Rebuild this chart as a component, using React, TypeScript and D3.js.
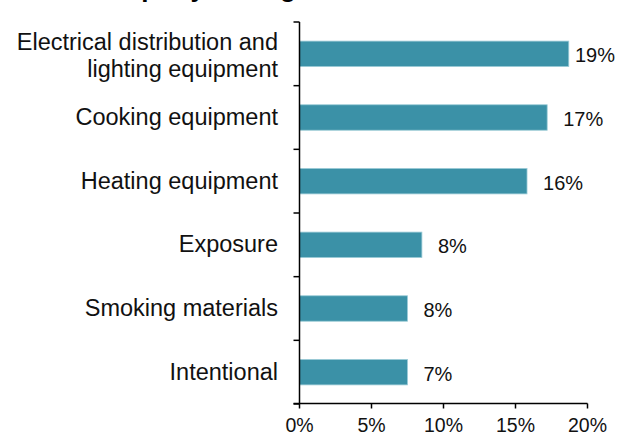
import React from "react";
import * as d3 from "d3";

const categories: string[][] = [
  ["Electrical distribution and", "lighting equipment"],
  ["Cooking equipment"],
  ["Heating equipment"],
  ["Exposure"],
  ["Smoking materials"],
  ["Intentional"],
];
const values: number[] = [18.7, 17.2, 15.8, 8.5, 7.5, 7.5];
const valueLabels: string[] = ["19%", "17%", "16%", "8%", "8%", "7%"];
const xTicks: number[] = [0, 5, 10, 15, 20];
const titleText = "Property damage";

const W = 618;
const H = 436;
const FONT = "'Liberation Sans', Arial, Helvetica, sans-serif";

export default function App() {
  const x = d3.scaleLinear().domain([0, 20]).range([299.5, 587.5]);
  const keys = categories.map((c) => c.join(" "));
  const y = d3.scaleBand<string>().domain(keys).range([22, 404]).paddingInner(0.6).paddingOuter(0.3);
  const step = y.step();
  const y0 = 22;
  const bounds = d3.range(keys.length + 1).map((i) => y0 + i * step);
  const axisX = x(0);
  const axisY = 403.5;
  const lineH = 27;

  return (
    <svg
      width={W}
      height={H}
      style={{ position: "absolute", left: 0, top: 0, display: "block", background: "#fff" }}
      fontFamily={FONT}
    >
      <text x={98} y={-3} fontSize={26} fontWeight="bold" fill="#000">
        {titleText}
      </text>
      {keys.map((k, i) => {
        const cy = (y(k) as number) + y.bandwidth() / 2;
        const xEnd = x(values[i]);
        const lines = categories[i];
        const off = lines.length > 1 ? 1 : -1;
        return (
          <g key={k}>
            <rect
              x={axisX}
              y={y(k)}
              width={xEnd - axisX}
              height={y.bandwidth()}
              fill="#3b91a7"
              stroke="#9ccbd7"
              strokeWidth={0.8}
            />
            <text
              x={Math.min(xEnd + 16, 575)}
              y={cy}
              dy="0.42em"
              fontSize={20}
              fill="#111"
            >
              {valueLabels[i]}
            </text>
            {lines.map((ln, j) => (
              <text
                key={j}
                x={278}
                y={cy + off + (j - (lines.length - 1) / 2) * lineH}
                dy="0.36em"
                textAnchor="end"
                fontSize={23.5}
                fill="#111"
              >
                {ln}
              </text>
            ))}
          </g>
        );
      })}
      {/* y axis */}
      <line x1={axisX} x2={axisX} y1={y0} y2={axisY} stroke="#000" strokeWidth={1.5} />
      {bounds.map((b, i) => (
        <line key={i} x1={axisX - 6} x2={axisX} y1={b} y2={b} stroke="#000" strokeWidth={1.5} />
      ))}
      {/* x axis */}
      <line x1={axisX - 6} x2={x(20)} y1={axisY} y2={axisY} stroke="#000" strokeWidth={1.5} />
      {xTicks.map((t) => (
        <g key={t}>
          <line x1={x(t)} x2={x(t)} y1={axisY} y2={axisY + 5} stroke="#000" strokeWidth={1.5} />
          <text x={x(t)} y={432} textAnchor="middle" fontSize={19.5} fill="#111">
            {t + "%"}
          </text>
        </g>
      ))}
    </svg>
  );
}
